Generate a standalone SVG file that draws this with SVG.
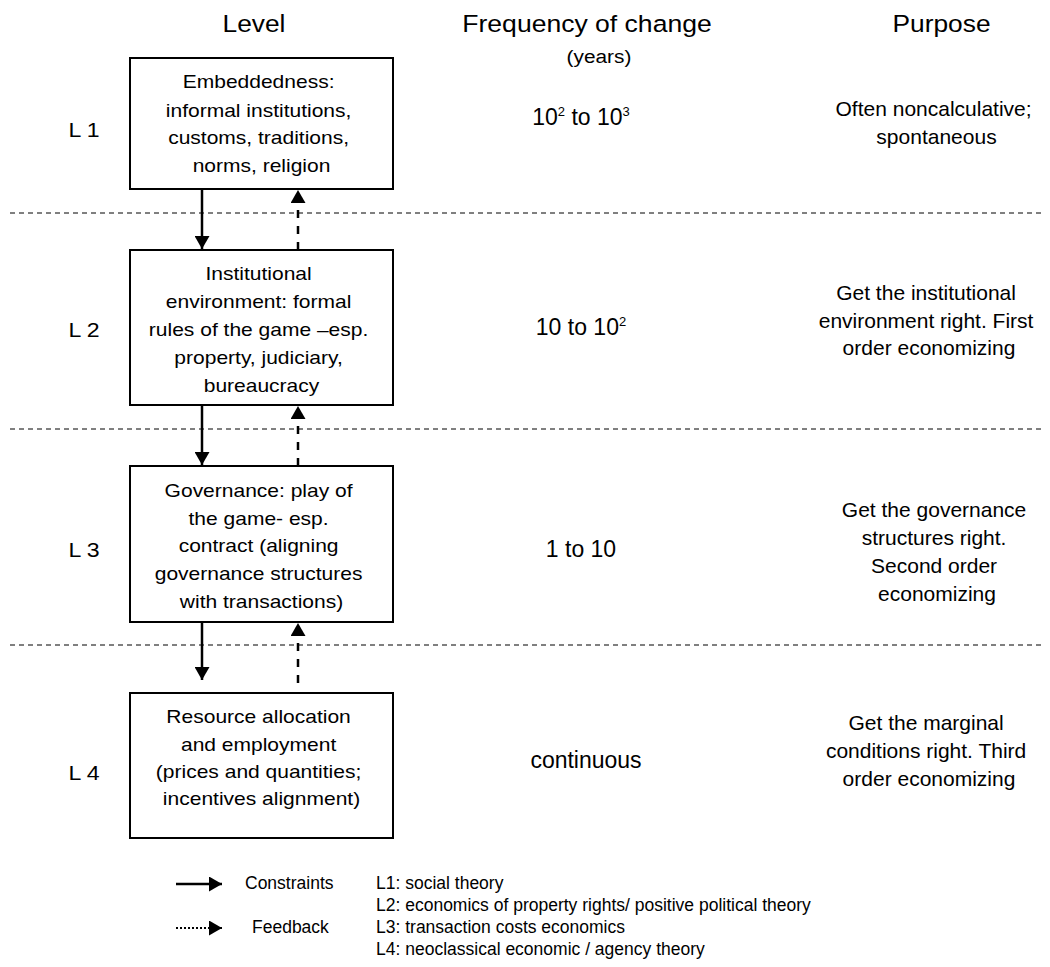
<svg xmlns="http://www.w3.org/2000/svg" width="1050" height="967" viewBox="0 0 1050 967">
<style>
  text { font-family: "Liberation Sans", Arial, sans-serif; fill: #000; }
  .hdr { font-size: 23.3px; text-anchor: middle; }
  .sub { font-size: 18.6px; text-anchor: middle; }
  .lvl { font-size: 21px; text-anchor: middle; }
  .box { font-size: 18.6px; text-anchor: middle; }
  .freq { font-size: 23px; text-anchor: middle; }
  .purp { font-size: 21px; text-anchor: middle; }
  .leg { font-size: 17.5px; }
  .node rect { fill: #fff; stroke: #000; stroke-width: 2; }
  .sep { stroke: #000; stroke-width: 1; stroke-dasharray: 5 4; fill: none; }
  .con { stroke: #000; stroke-width: 2.5; fill: none; }
  .fb { stroke: #000; stroke-width: 2.5; fill: none; stroke-dasharray: 8 8; }
  .dot { stroke: #000; stroke-width: 2; fill: none; stroke-dasharray: 2 2; }
</style>
<defs>
  <marker id="head" markerUnits="userSpaceOnUse" markerWidth="14" markerHeight="15" refX="13" refY="7.5" orient="auto">
    <path d="M0,0 L13,7.5 L0,15 z" fill="#000"/>
  </marker>
</defs>

<g id="headers">
  <text class="hdr" transform="translate(254,0) scale(1.13,1)" x="0" y="32">Level</text>
  <text class="hdr" transform="translate(587,0) scale(1.14,1)" x="0" y="32">Frequency of change</text>
  <text class="sub" transform="translate(599,0) scale(1.12,1)" x="0" y="63">(years)</text>
  <text class="hdr" transform="translate(941.5,0) scale(1.13,1)" x="0" y="32">Purpose</text>
</g>

<g id="separators">
  <line class="sep" x1="10" y1="213" x2="1042" y2="213"/>
  <line class="sep" x1="10" y1="429" x2="1042" y2="429"/>
  <line class="sep" x1="10" y1="645" x2="1042" y2="645"/>
</g>

<g id="level-labels">
  <text class="lvl" transform="translate(84,0) scale(1.1,1)" x="0" y="137">L 1</text>
  <text class="lvl" transform="translate(84,0) scale(1.1,1)" x="0" y="337">L 2</text>
  <text class="lvl" transform="translate(84,0) scale(1.1,1)" x="0" y="557">L 3</text>
  <text class="lvl" transform="translate(84,0) scale(1.1,1)" x="0" y="780">L 4</text>
</g>

<g id="node-L1" class="node">
  <rect x="130" y="58" width="263" height="131"/>
  <text class="box" transform="translate(261.5,0) scale(1.13,1)">
    <tspan x="0" y="88.3">Embeddedness:</tspan>
    <tspan x="0" y="116.7">informal institutions,</tspan>
    <tspan x="0" y="144.3">customs, traditions,</tspan>
    <tspan x="0" y="172">norms, religion</tspan>
  </text>
</g>

<g id="node-L2" class="node">
  <rect x="130" y="250" width="263" height="155"/>
  <text class="box" transform="translate(261.5,0) scale(1.13,1)">
    <tspan x="0" y="280">Institutional</tspan>
    <tspan x="0" y="308">environment: formal</tspan>
    <tspan x="0" y="336">rules of the game –esp.</tspan>
    <tspan x="0" y="364">property, judiciary,</tspan>
    <tspan x="0" y="392">bureaucracy</tspan>
  </text>
</g>

<g id="node-L3" class="node">
  <rect x="130" y="466" width="263" height="156"/>
  <text class="box" transform="translate(261.5,0) scale(1.13,1)">
    <tspan x="0" y="497">Governance: play of</tspan>
    <tspan x="0" y="525">the game- esp.</tspan>
    <tspan x="0" y="552.5">contract (aligning</tspan>
    <tspan x="0" y="580.5">governance structures</tspan>
    <tspan x="0" y="608.5">with transactions)</tspan>
  </text>
</g>

<g id="node-L4" class="node">
  <rect x="130" y="693" width="263" height="145"/>
  <text class="box" transform="translate(261.5,0) scale(1.13,1)">
    <tspan x="0" y="723">Resource allocation</tspan>
    <tspan x="0" y="751">and employment</tspan>
    <tspan x="0" y="778">(prices and quantities;</tspan>
    <tspan x="0" y="805">incentives alignment)</tspan>
  </text>
</g>

<g id="frequency">
  <text class="freq" x="581" y="125">10<tspan font-size="13" dy="-9">2</tspan><tspan dy="9"> to 10</tspan><tspan font-size="13" dy="-9">3</tspan></text>
  <text class="freq" x="581" y="335">10 to 10<tspan font-size="13" dy="-9">2</tspan></text>
  <text class="freq" x="581" y="557">1 to 10</text>
  <text class="freq" x="586" y="768">continuous</text>
</g>

<g id="purpose">
  <text class="purp">
    <tspan x="936.5" y="116">Often noncalculative;</tspan>
    <tspan x="936.5" y="143.5">spontaneous</tspan>
  </text>
  <text class="purp">
    <tspan x="929" y="300">Get the institutional</tspan>
    <tspan x="929" y="327.5">environment right. First</tspan>
    <tspan x="929" y="355">order economizing</tspan>
  </text>
  <text class="purp">
    <tspan x="937" y="517">Get the governance</tspan>
    <tspan x="937" y="545">structures right.</tspan>
    <tspan x="937" y="573">Second order</tspan>
    <tspan x="937" y="601">economizing</tspan>
  </text>
  <text class="purp">
    <tspan x="929" y="730">Get the marginal</tspan>
    <tspan x="929" y="758">conditions right. Third</tspan>
    <tspan x="929" y="786">order economizing</tspan>
  </text>
</g>

<g id="connectors">
  <line class="con" x1="202" y1="189" x2="202" y2="249" marker-end="url(#head)"/>
  <line class="con" x1="202" y1="405" x2="202" y2="465" marker-end="url(#head)"/>
  <line class="con" x1="202" y1="622" x2="202" y2="680" marker-end="url(#head)"/>
  <line class="fb" x1="298" y1="250" x2="298" y2="190" marker-end="url(#head)"/>
  <line class="fb" x1="298" y1="466" x2="298" y2="406" marker-end="url(#head)"/>
  <line class="fb" x1="298" y1="683" x2="298" y2="623" marker-end="url(#head)"/>
</g>

<g id="legend">
  <line class="con" x1="176" y1="884" x2="222" y2="884" marker-end="url(#head)"/>
  <text class="leg" x="245" y="889">Constraints</text>
  <line class="dot" x1="176" y1="928" x2="222" y2="928" marker-end="url(#head)"/>
  <text class="leg" x="252" y="933">Feedback</text>
  <text class="leg" x="376" y="889">L1: social theory</text>
  <text class="leg" x="376" y="911">L2: economics of property rights/ positive political theory</text>
  <text class="leg" x="376" y="933">L3: transaction costs economics</text>
  <text class="leg" x="376" y="955">L4: neoclassical economic / agency theory</text>
</g>
</svg>
